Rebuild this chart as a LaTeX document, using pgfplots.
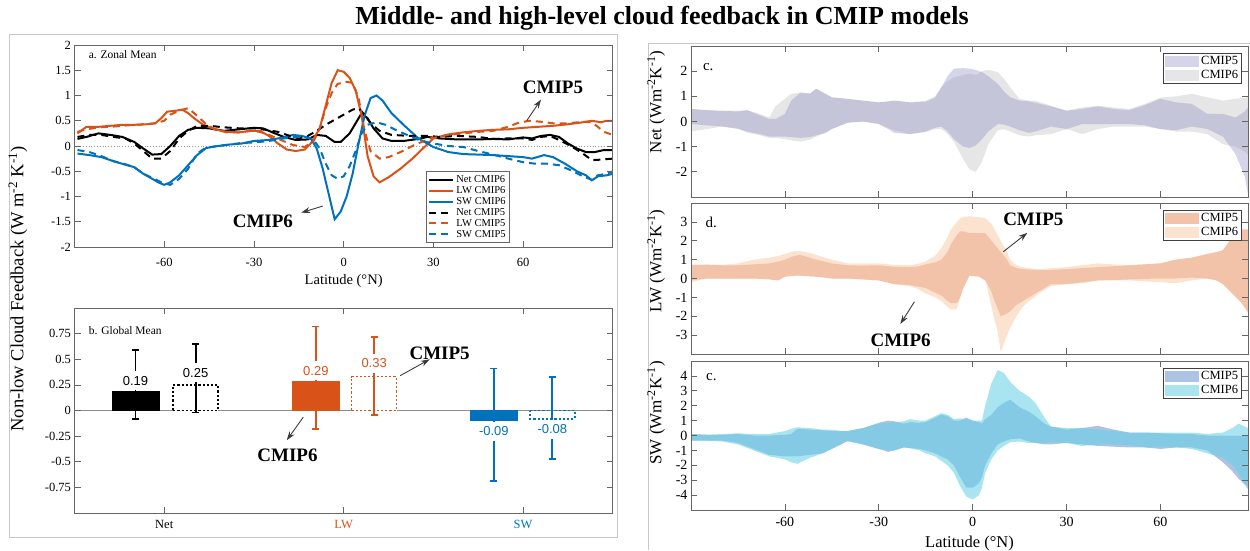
\documentclass[border=0pt]{standalone}
\usepackage{pgfplots}
\pgfplotsset{compat=1.18}
\usepackage{pgfplotstable}
\usetikzlibrary{arrows.meta}
\usepackage{fontspec}
\setmainfont{Liberation Serif}
\newfontfamily\sansf{Liberation Sans}

\definecolor{mlorange}{RGB}{217,83,25}
\definecolor{mlblue}{RGB}{0,114,189}
\definecolor{cgray}{RGB}{230,230,230}
\definecolor{clav}{RGB}{139,139,197}
\definecolor{dpeach}{RGB}{252,227,208}
\definecolor{dsalmon}{RGB}{242,195,168}
\definecolor{esteel}{RGB}{172,195,228}
\definecolor{ecyan}{RGB}{104,209,228}
\definecolor{arr}{RGB}{60,60,60}

% ---------- panel a data ----------
\pgfplotstableread{
x y
-89 0.14
-86 0.18
-82 0.25
-78 0.22
-74 0.18
-70 0.08
-67 -0.05
-64 -0.17
-61 -0.16
-58 0.0
-55 0.2
-52 0.32
-49 0.36
-45 0.35
-40 0.30
-35 0.33
-30 0.36
-27 0.35
-23 0.25
-20 0.18
-16 0.12
-12 0.13
-9 0.22
-6 0.20
-3 0.08
-1 0.08
2 0.25
4 0.45
6 0.65
8 0.55
10 0.35
13 0.15
16 0.10
20 0.10
25 0.14
28 0.18
32 0.15
38 0.13
45 0.13
50 0.14
55 0.13
60 0.17
63 0.15
66 0.20
69 0.22
72 0.18
75 0.05
78 -0.05
81 -0.12
84 -0.12
87 -0.08
90 -0.08
}\netsix
\pgfplotstableread{
x y
-89 0.18
-85 0.22
-81 0.22
-77 0.18
-73 0.15
-70 0.05
-67 -0.1
-64 -0.25
-61 -0.25
-58 -0.1
-55 0.15
-52 0.3
-49 0.40
-45 0.40
-40 0.37
-35 0.35
-30 0.35
-26 0.32
-22 0.28
-18 0.2
-15 0.15
-12 0.2
-9 0.30
-6 0.42
-3 0.52
0 0.62
3 0.72
5 0.75
7 0.62
9 0.45
12 0.3
16 0.22
22 0.2
28 0.2
32 0.18
38 0.2
45 0.18
50 0.14
55 0.15
60 0.15
63 0.12
66 0.18
69 0.2
72 0.12
76 0.0
80 -0.15
83 -0.28
86 -0.27
90 -0.25
}\netfive
\pgfplotstableread{
x y
-89 0.25
-86 0.38
-82 0.38
-78 0.40
-74 0.42
-70 0.42
-66 0.43
-63 0.45
-61 0.55
-59 0.68
-56 0.70
-54 0.72
-52 0.65
-50 0.55
-47 0.42
-43 0.33
-39 0.28
-35 0.27
-31 0.30
-28 0.30
-25 0.2
-22 0.05
-19 -0.07
-16 -0.1
-13 -0.07
-11 0.05
-8 0.35
-6 0.8
-4 1.25
-2 1.5
0 1.47
2 1.35
4 1.1
6 0.6
8 -0.2
10 -0.6
12 -0.72
15 -0.62
19 -0.45
23 -0.25
27 -0.02
30 0.15
35 0.23
40 0.27
45 0.30
50 0.32
55 0.33
60 0.36
65 0.38
70 0.40
75 0.43
80 0.47
83 0.50
86 0.47
88 0.50
90 0.50
}\lwsix
\pgfplotstableread{
x y
-89 0.28
-86 0.33
-82 0.37
-78 0.38
-74 0.40
-70 0.42
-66 0.43
-63 0.45
-60 0.50
-58 0.62
-55 0.70
-52 0.75
-49 0.60
-46 0.43
-43 0.33
-39 0.27
-35 0.27
-31 0.30
-28 0.28
-25 0.22
-21 0.12
-17 0.02
-13 -0.02
-10 0.1
-8 0.35
-6 0.75
-4 1.05
-2 1.23
1 1.27
3 1.25
5 0.95
7 0.3
9 -0.1
12 -0.25
15 -0.22
19 -0.12
24 0.03
29 0.15
35 0.22
40 0.25
45 0.28
50 0.30
55 0.38
58 0.45
62 0.50
66 0.48
70 0.45
75 0.45
80 0.48
83 0.47
85 0.38
87 0.28
90 0.22
}\lwfive
\pgfplotstableread{
x y
-89 -0.15
-85 -0.18
-81 -0.22
-77 -0.30
-73 -0.37
-70 -0.42
-67 -0.55
-64 -0.65
-62 -0.72
-60 -0.77
-58 -0.72
-55 -0.58
-52 -0.38
-49 -0.18
-46 -0.04
-42 0.0
-38 0.03
-34 0.05
-30 0.10
-25 0.12
-20 0.17
-17 0.22
-14 0.20
-11 0.15
-9 -0.05
-7 -0.45
-5 -0.95
-3 -1.45
-1 -1.3
1 -1.0
3 -0.55
5 0.05
7 0.6
9 0.95
11 1.0
13 0.9
16 0.65
20 0.42
25 0.15
30 -0.02
35 -0.12
40 -0.16
45 -0.17
50 -0.18
55 -0.20
60 -0.22
63 -0.25
67 -0.18
70 -0.22
74 -0.35
78 -0.50
81 -0.58
83 -0.68
85 -0.60
88 -0.58
90 -0.55
}\swsix
\pgfplotstableread{
x y
-89 -0.08
-85 -0.12
-81 -0.20
-77 -0.30
-73 -0.36
-70 -0.42
-67 -0.55
-64 -0.63
-61 -0.72
-58 -0.77
-55 -0.65
-52 -0.45
-49 -0.15
-46 -0.03
-42 0.0
-38 0.03
-34 0.06
-30 0.07
-25 0.10
-20 0.15
-16 0.18
-13 0.18
-10 0.12
-8 -0.05
-6 -0.35
-4 -0.58
-2 -0.65
0 -0.6
2 -0.4
4 -0.1
6 0.25
8 0.42
11 0.47
14 0.42
18 0.3
22 0.2
26 0.1
30 0.05
35 0.0
40 -0.02
45 -0.10
50 -0.17
55 -0.25
60 -0.32
64 -0.35
68 -0.35
72 -0.38
76 -0.48
80 -0.60
83 -0.67
85 -0.58
88 -0.55
90 -0.50
}\swfive

\pgfplotsset{
  mlbase/.style={scale only axis, anchor=south west,
    axis line style={black!60, line width=0.7pt},
    every tick/.style={black!60, line width=0.7pt},
    tick align=inside, major tick length=6pt,
    /pgf/number format/assume math mode=true},
  ml/.style={mlbase, axis on top},
  bandlegend/.style={legend style={at={(0.989,0.955)}, anchor=north east,
    draw=black!75, line width=0.7pt, fill=white,
    font=\fontsize{12.5}{13}\selectfont, inner sep=1.5pt, row sep=0pt,
    cells={anchor=west}},
    legend image code/.code={\fill[##1, draw=none] (0pt,-5.5pt) rectangle (34pt,5.5pt);}},
  rightax/.style={ml, width=557pt, xmin=-90, xmax=88,
    xtick={-60,-30,0,30,60},
    ticklabel style={font=\fontsize{14}{14}\selectfont}},
}

\begin{document}
\begin{tikzpicture}
\useasboundingbox (0pt,0pt) rectangle (1250pt,550pt);
\draw[black!22, line width=1pt] (9pt,13pt) rectangle (617pt,515pt);
\draw[black!22, line width=1pt] (648pt,0pt) -- (648pt,506pt) -- (1252pt,506pt);
\node[font=\fontsize{26}{26}\selectfont\bfseries] at (662pt,532pt) {Middle- and high-level cloud feedback in CMIP models};
\node[rotate=90, font=\fontsize{18.5}{19}\selectfont] at (18pt,261pt) {Non-low Cloud Feedback (W m\textsuperscript{-2} K\textsuperscript{-1})};

% ===== panel a =====
\begin{axis}[ml, at={(74.5pt,303pt)}, width=538.3pt, height=202pt,
  xmin=-90, xmax=90, ymin=-2, ymax=2,
  xtick={-60,-30,0,30,60}, ytick={-2,-1.5,-1,-0.5,0,0.5,1,1.5,2},
  ticklabel style={font=\fontsize{12.5}{12.5}\selectfont},
  xticklabel style={yshift=-8pt},
  xlabel={Latitude (°N)}, xlabel style={font=\fontsize{14.5}{14.5}\selectfont, yshift=-1pt},
  legend style={at={(0.809,0.02)}, anchor=south east, draw=black!60, line width=0.6pt,
    fill=white, font=\fontsize{10.5}{11}\selectfont, inner sep=2pt, row sep=-1.5pt,
    cells={anchor=west}},
  legend image code/.code={\draw[#1] (0pt,0pt) -- (24pt,0pt);},
]
\addplot[black!40, dotted, line width=0.8pt, forget plot] coordinates {(-90,0) (90,0)};
\addplot[black, line width=2pt] table {\netsix}; \addlegendentry{Net CMIP6}
\addplot[mlorange, line width=2pt] table {\lwsix}; \addlegendentry{LW CMIP6}
\addplot[mlblue, line width=2pt] table {\swsix}; \addlegendentry{SW CMIP6}
\addplot[black, line width=2pt, dash pattern=on 7pt off 5pt] table {\netfive}; \addlegendentry{Net CMIP5}
\addplot[mlorange, line width=2pt, dash pattern=on 7pt off 5pt] table {\lwfive}; \addlegendentry{LW CMIP5}
\addplot[mlblue, line width=2pt, dash pattern=on 7pt off 5pt] table {\swfive}; \addlegendentry{SW CMIP5}
\node[anchor=west, font=\fontsize{11.5}{12}\selectfont] at (axis description cs:0.02,0.955) {a. Zonal Mean};
\node[font=\fontsize{19}{19}\selectfont\bfseries] at (axis cs:70,1.17) {CMIP5};
\draw[arr, line width=0.9pt, -{Stealth[length=9pt,width=6pt]}] (axis cs:61.2,0.5) -- (axis cs:66,0.92);
\node[font=\fontsize{19}{19}\selectfont\bfseries] at (axis cs:-27,-1.5) {CMIP6};
\draw[arr, line width=0.9pt, -{Stealth[length=9pt,width=6pt]}] (axis cs:-7,-1.19) -- (axis cs:-14.2,-1.32);
\end{axis}

% ===== panel b =====
\begin{axis}[ml, at={(74.5pt,37pt)}, width=538.3pt, height=205pt,
  xmin=0.5, xmax=3.5, ymin=-1, ymax=1,
  xtick={1,2,3}, xticklabels={Net,\textcolor{mlorange}{LW},\textcolor{mlblue}{SW}},
  ytick={-0.75,-0.5,-0.25,0,0.25,0.5,0.75},
  ticklabel style={font=\fontsize{12.5}{12.5}\selectfont},
  xticklabel style={yshift=-4pt},
  yticklabel style={/pgf/number format/fixed, /pgf/number format/precision=2},
]
\addplot[black!45, line width=0.8pt] coordinates {(0.5,0) (3.5,0)};
\addplot[ybar, bar width=46.6pt, fill=black, draw=black] coordinates {(0.84,0.19)};
\addplot[ybar, bar width=46.6pt, fill=mlorange, draw=mlorange] coordinates {(1.845,0.29)};
\addplot[ybar, bar width=46.6pt, fill=mlblue, draw=mlblue] coordinates {(2.837,-0.09)};
\addplot[ybar, bar width=45pt, fill=white, draw=black, line width=1.6pt, dash pattern=on 2.2pt off 2pt] coordinates {(1.175,0.25)};
\addplot[ybar, bar width=45pt, fill=white, draw=mlorange, line width=1.6pt, dash pattern=on 2.2pt off 2pt] coordinates {(2.17,0.33)};
\addplot[ybar, bar width=45pt, fill=white, draw=mlblue, line width=1.6pt, dash pattern=on 2.2pt off 2pt] coordinates {(3.163,-0.08)};
\addplot[black, line width=1.8pt, mark=-, mark size=3.5pt, mark options={solid}] coordinates {(0.84,-0.08) (0.84,0.59)};
\addplot[black, line width=1.8pt, mark=-, mark size=3.5pt, mark options={solid}] coordinates {(1.175,-0.02) (1.175,0.65)};
\addplot[mlorange, line width=1.8pt, mark=-, mark size=3.5pt, mark options={solid}] coordinates {(1.845,-0.18) (1.845,0.82)};
\addplot[mlorange, line width=1.8pt, mark=-, mark size=3.5pt, mark options={solid}] coordinates {(2.17,-0.04) (2.17,0.72)};
\addplot[mlblue, line width=1.8pt, mark=-, mark size=3.5pt, mark options={solid}] coordinates {(2.837,-0.69) (2.837,0.41)};
\addplot[mlblue, line width=1.8pt, mark=-, mark size=3.5pt, mark options={solid}] coordinates {(3.163,-0.47) (3.163,0.33)};
\tikzset{vlab/.style={fill=white, inner xsep=1pt, inner ysep=0pt, minimum height=19pt, font=\sansf\fontsize{13}{13}\selectfont}}
\node[vlab, text=black] at (axis cs:0.84,0.29) {0.19};
\node[vlab, text=black] at (axis cs:1.175,0.37) {0.25};
\node[vlab, text=mlorange] at (axis cs:1.845,0.39) {0.29};
\node[vlab, text=mlorange] at (axis cs:2.17,0.46) {0.33};
\node[vlab, text=mlblue] at (axis cs:2.837,-0.20) {-0.09};
\node[vlab, text=mlblue] at (axis cs:3.163,-0.185) {-0.08};
\node[anchor=west, font=\fontsize{11.5}{12}\selectfont] at (axis description cs:0.02,0.89) {b. Global Mean};
\node[font=\fontsize{19}{19}\selectfont\bfseries] at (axis cs:2.535,0.56) {CMIP5};
\draw[arr, line width=0.9pt, -{Stealth[length=9pt,width=6pt]}] (axis cs:2.315,0.34) -- (axis cs:2.48,0.5);
\node[font=\fontsize{19}{19}\selectfont\bfseries] at (axis cs:1.687,-0.44) {CMIP6};
\draw[arr, line width=0.9pt, -{Stealth[length=9pt,width=6pt]}] (axis cs:1.775,-0.065) -- (axis cs:1.683,-0.29);
\end{axis}

% ===== panel c (Net) =====
\begin{axis}[rightax, bandlegend, at={(691pt,353pt)}, height=151pt,
  ymin=-3, ymax=3, ytick={-2,-1,0,1,2}, xticklabels={,,,,}]
\addplot[fill=cgray, draw=none, forget plot] coordinates {
(-90,0.5)(-85,0.45)(-80,0.43)(-75,0.43)(-72,0.45)(-68,0.3)(-65,0.16)(-63,0.6)(-60,0.9)(-58,1.1)(-55,1.15)(-52,1.12)(-50,1.3)(-47,1.1)(-45,0.96)(-40,0.9)(-35,0.83)(-30,0.76)(-27,0.8)(-25,0.83)(-20,0.76)(-15,0.83)(-12,1.0)(-10,1.36)(-8,1.6)(-6,1.75)(-3,1.85)(-1,1.9)(1,1.85)(3,2.0)(5,2.05)(8,1.96)(10,1.7)(12,1.36)(15,0.9)(18,0.83)(20,0.83)(25,0.63)(30,0.43)(35,0.56)(40,0.63)(45,0.56)(50,0.5)(55,0.7)(60,0.95)(65,1.0)(70,1.1)(75,0.96)(80,0.83)(84,0.9)(87,0.95)(88,0.96)
(88,-1.3)(87,-1.2)(84,-1.0)(80,-0.9)(75,-0.5)(70,-0.4)(65,-0.4)(60,-0.3)(55,-0.2)(50,-0.2)(45,-0.2)(40,-0.3)(35,-0.5)(30,-0.3)(25,-0.5)(20,-0.55)(18,-0.6)(15,-0.55)(12,-0.4)(10,-0.3)(8,-0.35)(5,-0.9)(3,-1.6)(1,-2.0)(-1,-1.9)(-3,-1.5)(-6,-0.8)(-8,-0.5)(-10,-0.3)(-12,-0.3)(-15,-0.42)(-20,-0.5)(-25,-0.35)(-27,-0.25)(-30,-0.1)(-35,0.0)(-40,-0.05)(-45,-0.3)(-47,-0.45)(-50,-0.6)(-52,-0.72)(-55,-0.8)(-58,-0.75)(-60,-0.7)(-63,-0.65)(-65,-0.65)(-68,-0.55)(-72,-0.45)(-75,-0.27)(-80,-0.2)(-85,-0.3)(-90,-0.4)
} -- cycle;
\addplot[fill=clav, fill opacity=0.36, draw=none, forget plot] coordinates {
(-90,0.5)(-85,0.45)(-80,0.42)(-75,0.4)(-72,0.45)(-68,0.25)(-65,0.1)(-63,0.1)(-60,0.3)(-58,0.83)(-55,1.15)(-52,1.1)(-50,1.3)(-47,1.1)(-45,0.96)(-40,0.9)(-35,0.83)(-30,0.76)(-27,0.8)(-25,0.83)(-20,0.76)(-15,0.78)(-12,0.95)(-10,1.36)(-8,1.8)(-6,2.1)(-3,2.12)(-1,2.1)(1,2.05)(3,1.96)(5,1.8)(8,1.5)(10,1.2)(12,0.96)(15,0.83)(18,0.8)(20,0.75)(25,0.6)(30,0.43)(35,0.5)(40,0.6)(45,0.5)(50,0.45)(55,0.65)(60,0.9)(65,0.76)(70,0.7)(75,0.3)(80,0.3)(84,0.16)(87,0.4)(88,0.56)
(88,-2.9)(87,-2.2)(84,-1.3)(80,-0.6)(75,-0.3)(70,-0.2)(65,-0.35)(60,-0.3)(55,-0.15)(50,-0.1)(45,-0.1)(40,-0.1)(35,-0.1)(30,-0.3)(25,-0.2)(20,-0.4)(18,-0.45)(15,-0.35)(12,-0.2)(10,-0.12)(8,-0.1)(5,-0.4)(3,-0.7)(1,-0.95)(-1,-1.05)(-3,-1.0)(-6,-0.7)(-8,-0.4)(-10,-0.2)(-12,-0.25)(-15,-0.4)(-20,-0.5)(-25,-0.45)(-27,-0.3)(-30,-0.1)(-35,0.0)(-40,-0.05)(-45,-0.3)(-47,-0.45)(-50,-0.55)(-52,-0.62)(-55,-0.65)(-58,-0.62)(-60,-0.6)(-63,-0.6)(-65,-0.6)(-68,-0.5)(-72,-0.4)(-75,-0.3)(-80,-0.2)(-85,-0.15)(-90,-0.1)
} -- cycle;
\addlegendimage{fill=clav, fill opacity=0.36}\addlegendentry{CMIP5}
\addlegendimage{fill=cgray}\addlegendentry{CMIP6}
\node[font=\fontsize{15}{15}\selectfont] at (axis cs:-84.5,2.15) {c.};
\end{axis}
\node[rotate=90, font=\fontsize{17}{17}\selectfont] at (656pt,448pt) {Net (Wm\textsuperscript{-2}K\textsuperscript{-1})};

% ===== panel d (LW) =====
\begin{axis}[rightax, bandlegend, at={(691pt,196pt)}, height=151pt,
  ymin=-4, ymax=4, ytick={-3,-2,-1,0,1,2,3}, xticklabels={,,,,}]
\addplot[fill=dpeach, draw=none, forget plot] coordinates {
(-90,0.75)(-85,0.75)(-80,0.72)(-75,0.8)(-70,1.0)(-65,1.1)(-62,1.2)(-60,1.3)(-57,1.45)(-55,1.45)(-52,1.35)(-50,1.25)(-45,1.0)(-40,0.8)(-35,0.8)(-30,0.8)(-25,0.72)(-20,0.7)(-17,0.8)(-15,0.9)(-12,1.2)(-10,1.6)(-8,2.2)(-7,2.6)(-5,3.0)(-4,3.2)(-3,3.25)(-1,3.3)(2,3.25)(4,3.2)(6,2.9)(7,2.6)(8,2.3)(9,2.0)(11,1.4)(12,1.0)(14,0.7)(16,0.6)(18,0.55)(20,0.5)(22,0.5)(25,0.55)(30,0.6)(35,0.7)(40,0.8)(45,0.75)(50,0.7)(55,0.75)(60,0.8)(65,1.0)(70,1.1)(75,1.3)(78,1.4)(80,1.5)(83,2.2)(86,2.5)(88,2.4)
(88,-1.8)(86,-1.3)(83,-0.8)(80,-0.3)(78,-0.1)(75,0.0)(70,-0.1)(65,-0.25)(60,-0.2)(55,-0.15)(50,-0.1)(45,-0.1)(40,-0.1)(35,-0.25)(30,-0.3)(25,-0.4)(22,-0.7)(20,-0.95)(18,-1.2)(16,-1.5)(14,-2.0)(12,-2.6)(11,-3.0)(9,-3.9)(8,-2.8)(7,-2.2)(6,-1.5)(4,0.0)(2,0.1)(-1,0.2)(-3,-0.5)(-4,-1.0)(-5,-1.6)(-7,-1.65)(-8,-1.5)(-10,-1.2)(-12,-1.0)(-15,-0.8)(-17,-0.6)(-20,-0.4)(-25,-0.3)(-30,-0.1)(-35,-0.05)(-40,0.0)(-45,0.0)(-50,0.1)(-52,0.12)(-55,0.15)(-57,0.15)(-60,0.1)(-62,0.0)(-65,0.0)(-70,0.0)(-75,0.0)(-80,0.0)(-85,0.0)(-90,-0.2)
} -- cycle;
\addplot[fill=dsalmon, draw=none, forget plot] coordinates {
(-90,0.7)(-85,0.72)(-80,0.7)(-75,0.7)(-70,0.75)(-65,0.8)(-62,0.9)(-60,1.0)(-57,1.2)(-55,1.25)(-52,1.1)(-50,1.0)(-45,0.8)(-40,0.7)(-35,0.68)(-30,0.7)(-25,0.62)(-20,0.6)(-17,0.65)(-15,0.75)(-12,0.85)(-10,1.0)(-8,1.4)(-7,1.8)(-5,2.3)(-4,2.5)(-3,2.5)(-1,2.4)(2,2.4)(4,2.4)(6,2.0)(7,1.8)(8,1.6)(9,1.4)(11,1.0)(12,0.7)(14,0.55)(16,0.5)(18,0.48)(20,0.45)(22,0.45)(25,0.45)(30,0.5)(35,0.55)(40,0.6)(45,0.65)(50,0.7)(55,0.75)(60,0.8)(65,1.0)(70,1.1)(75,1.3)(78,1.4)(80,1.5)(83,2.2)(86,2.6)(88,2.6)
(88,-1.8)(86,-1.3)(83,-0.8)(80,-0.3)(78,-0.1)(75,0.0)(70,0.05)(65,0.0)(60,0.0)(55,-0.02)(50,-0.05)(45,-0.08)(40,-0.1)(35,-0.2)(30,-0.3)(25,-0.3)(22,-0.6)(20,-0.8)(18,-1.0)(16,-1.2)(14,-1.4)(12,-1.75)(11,-1.85)(9,-2.0)(8,-1.6)(7,-1.2)(6,-0.7)(4,-0.1)(2,0.1)(-1,0.15)(-3,-0.5)(-4,-1.0)(-5,-1.3)(-7,-1.3)(-8,-1.2)(-10,-0.9)(-12,-0.75)(-15,-0.5)(-17,-0.45)(-20,-0.35)(-25,-0.3)(-30,-0.1)(-35,-0.05)(-40,0.0)(-45,0.0)(-50,0.1)(-52,0.12)(-55,0.15)(-57,0.15)(-60,0.1)(-62,-0.1)(-65,-0.05)(-70,0.0)(-75,0.0)(-80,0.0)(-85,0.0)(-90,-0.1)
} -- cycle;
\addlegendimage{fill=dsalmon}\addlegendentry{CMIP5}
\addlegendimage{fill=dpeach}\addlegendentry{CMIP6}
\node[font=\fontsize{15}{15}\selectfont] at (axis cs:-83.5,2.95) {d.};
\node[font=\fontsize{19}{19}\selectfont\bfseries] at (axis cs:19.4,3.15) {CMIP5};
\draw[arr, line width=0.9pt, -{Stealth[length=9pt,width=6pt]}] (axis cs:9.8,1.42) -- (axis cs:17.5,2.42);
\node[font=\fontsize{19}{19}\selectfont\bfseries] at (axis cs:-23,-3.3) {CMIP6};
\draw[arr, line width=0.9pt, -{Stealth[length=9pt,width=6pt]}] (axis cs:-18.6,-1.23) -- (axis cs:-23.1,-2.41);
\end{axis}
\node[rotate=90, font=\fontsize{17}{17}\selectfont] at (656pt,289pt) {LW (Wm\textsuperscript{-2}K\textsuperscript{-1})};

% ===== panel e (SW) =====
\begin{axis}[rightax, bandlegend, at={(691pt,40pt)}, height=149pt,
  ymin=-5, ymax=5, ytick={-4,-3,-2,-1,0,1,2,3,4},
  xticklabel style={yshift=-4pt},
  xlabel={Latitude (°N)}, xlabel style={font=\fontsize{16.5}{16.5}\selectfont, yshift=-2pt}]
\addplot[fill=esteel, draw=none, forget plot] coordinates {
(-90,0.1)(-85,0.05)(-80,0.05)(-75,0.1)(-70,0.0)(-65,0.0)(-60,0.05)(-58,0.1)(-56,0.45)(-52,0.4)(-48,0.35)(-45,0.3)(-42,0.3)(-40,0.3)(-35,0.5)(-30,0.85)(-27,1.0)(-25,0.95)(-22,0.8)(-20,0.9)(-17,0.85)(-15,0.9)(-12,1.2)(-10,1.4)(-8,1.3)(-6,1.0)(-4,1.0)(-2,1.2)(0,1.0)(2,0.9)(3,0.8)(4,1.1)(6,1.4)(8,1.9)(10,2.2)(12,2.4)(15,1.9)(18,1.6)(20,1.3)(23,0.8)(25,0.6)(30,0.4)(35,0.5)(40,0.65)(45,0.4)(50,0.2)(55,0.2)(60,0.15)(65,0.1)(70,0.1)(75,0.0)(80,0.0)(83,0.0)(85,0.0)(87,0.0)(88,0.0)
(88,-3.6)(87,-3.3)(85,-2.9)(83,-2.4)(80,-1.8)(75,-1.0)(70,-0.8)(65,-0.8)(60,-0.9)(55,-0.8)(50,-0.8)(45,-0.75)(40,-0.7)(35,-0.6)(30,-0.5)(25,-0.6)(23,-0.6)(20,-0.5)(18,-0.4)(15,-0.2)(12,-0.25)(10,-0.4)(8,-0.6)(6,-1.2)(4,-2.0)(3,-2.8)(2,-3.2)(0,-3.5)(-2,-3.5)(-4,-2.8)(-6,-2.0)(-8,-1.6)(-10,-1.4)(-12,-1.2)(-15,-1.0)(-17,-0.9)(-20,-0.85)(-22,-0.8)(-25,-1.0)(-27,-1.1)(-30,-0.9)(-35,-0.6)(-40,-0.35)(-42,-0.6)(-45,-0.9)(-48,-1.2)(-52,-1.3)(-56,-1.4)(-58,-1.4)(-60,-1.4)(-65,-1.3)(-70,-0.9)(-75,-0.5)(-80,-0.35)(-85,-0.35)(-90,-0.35)
} -- cycle;
\addplot[fill=ecyan, fill opacity=0.57, draw=none, forget plot] coordinates {
(-90,0.1)(-85,0.05)(-80,0.1)(-75,0.15)(-70,0.1)(-65,0.1)(-60,0.3)(-58,0.45)(-56,0.55)(-52,0.5)(-48,0.4)(-45,0.4)(-42,0.3)(-40,0.3)(-35,0.5)(-30,0.8)(-27,0.85)(-25,0.9)(-22,0.95)(-20,1.1)(-17,1.0)(-15,1.0)(-12,1.3)(-10,1.5)(-8,1.4)(-6,1.1)(-4,1.15)(-2,1.1)(0,1.0)(2,1.0)(3,1.0)(4,2.0)(6,3.5)(8,4.4)(10,4.2)(12,3.6)(15,3.0)(18,2.6)(20,2.2)(23,1.2)(25,0.6)(30,0.5)(35,0.5)(40,0.4)(45,0.3)(50,0.2)(55,0.2)(60,0.2)(65,0.2)(70,0.2)(75,0.1)(80,0.2)(83,0.5)(85,0.8)(87,0.6)(88,0.5)
(88,-3.3)(87,-3.3)(85,-2.5)(83,-2.0)(80,-1.5)(75,-1.2)(70,-0.9)(65,-0.8)(60,-0.8)(55,-0.8)(50,-0.65)(45,-0.6)(40,-0.6)(35,-0.7)(30,-0.5)(25,-0.45)(23,-0.5)(20,-0.5)(18,-0.5)(15,-0.4)(12,-0.45)(10,-0.7)(8,-1.0)(6,-1.6)(4,-2.5)(3,-3.5)(2,-4.0)(0,-4.3)(-2,-4.1)(-4,-3.4)(-6,-2.5)(-8,-2.0)(-10,-1.7)(-12,-1.4)(-15,-1.2)(-17,-1.0)(-20,-0.85)(-22,-0.8)(-25,-1.0)(-27,-1.0)(-30,-0.9)(-35,-0.6)(-40,-0.4)(-42,-0.55)(-45,-0.9)(-48,-1.2)(-52,-1.5)(-56,-1.9)(-58,-1.8)(-60,-1.6)(-65,-1.4)(-70,-1.0)(-75,-0.6)(-80,-0.4)(-85,-0.35)(-90,-0.35)
} -- cycle;
\addlegendimage{fill=esteel}\addlegendentry{CMIP5}
\addlegendimage{fill=ecyan, fill opacity=0.57}\addlegendentry{CMIP6}
\node[font=\fontsize{15}{15}\selectfont] at (axis cs:-83.5,3.9) {c.};
\end{axis}
\node[rotate=90, font=\fontsize{17}{17}\selectfont] at (656pt,137pt) {SW (Wm\textsuperscript{-2}K\textsuperscript{-1})};
\end{tikzpicture}
\end{document}
